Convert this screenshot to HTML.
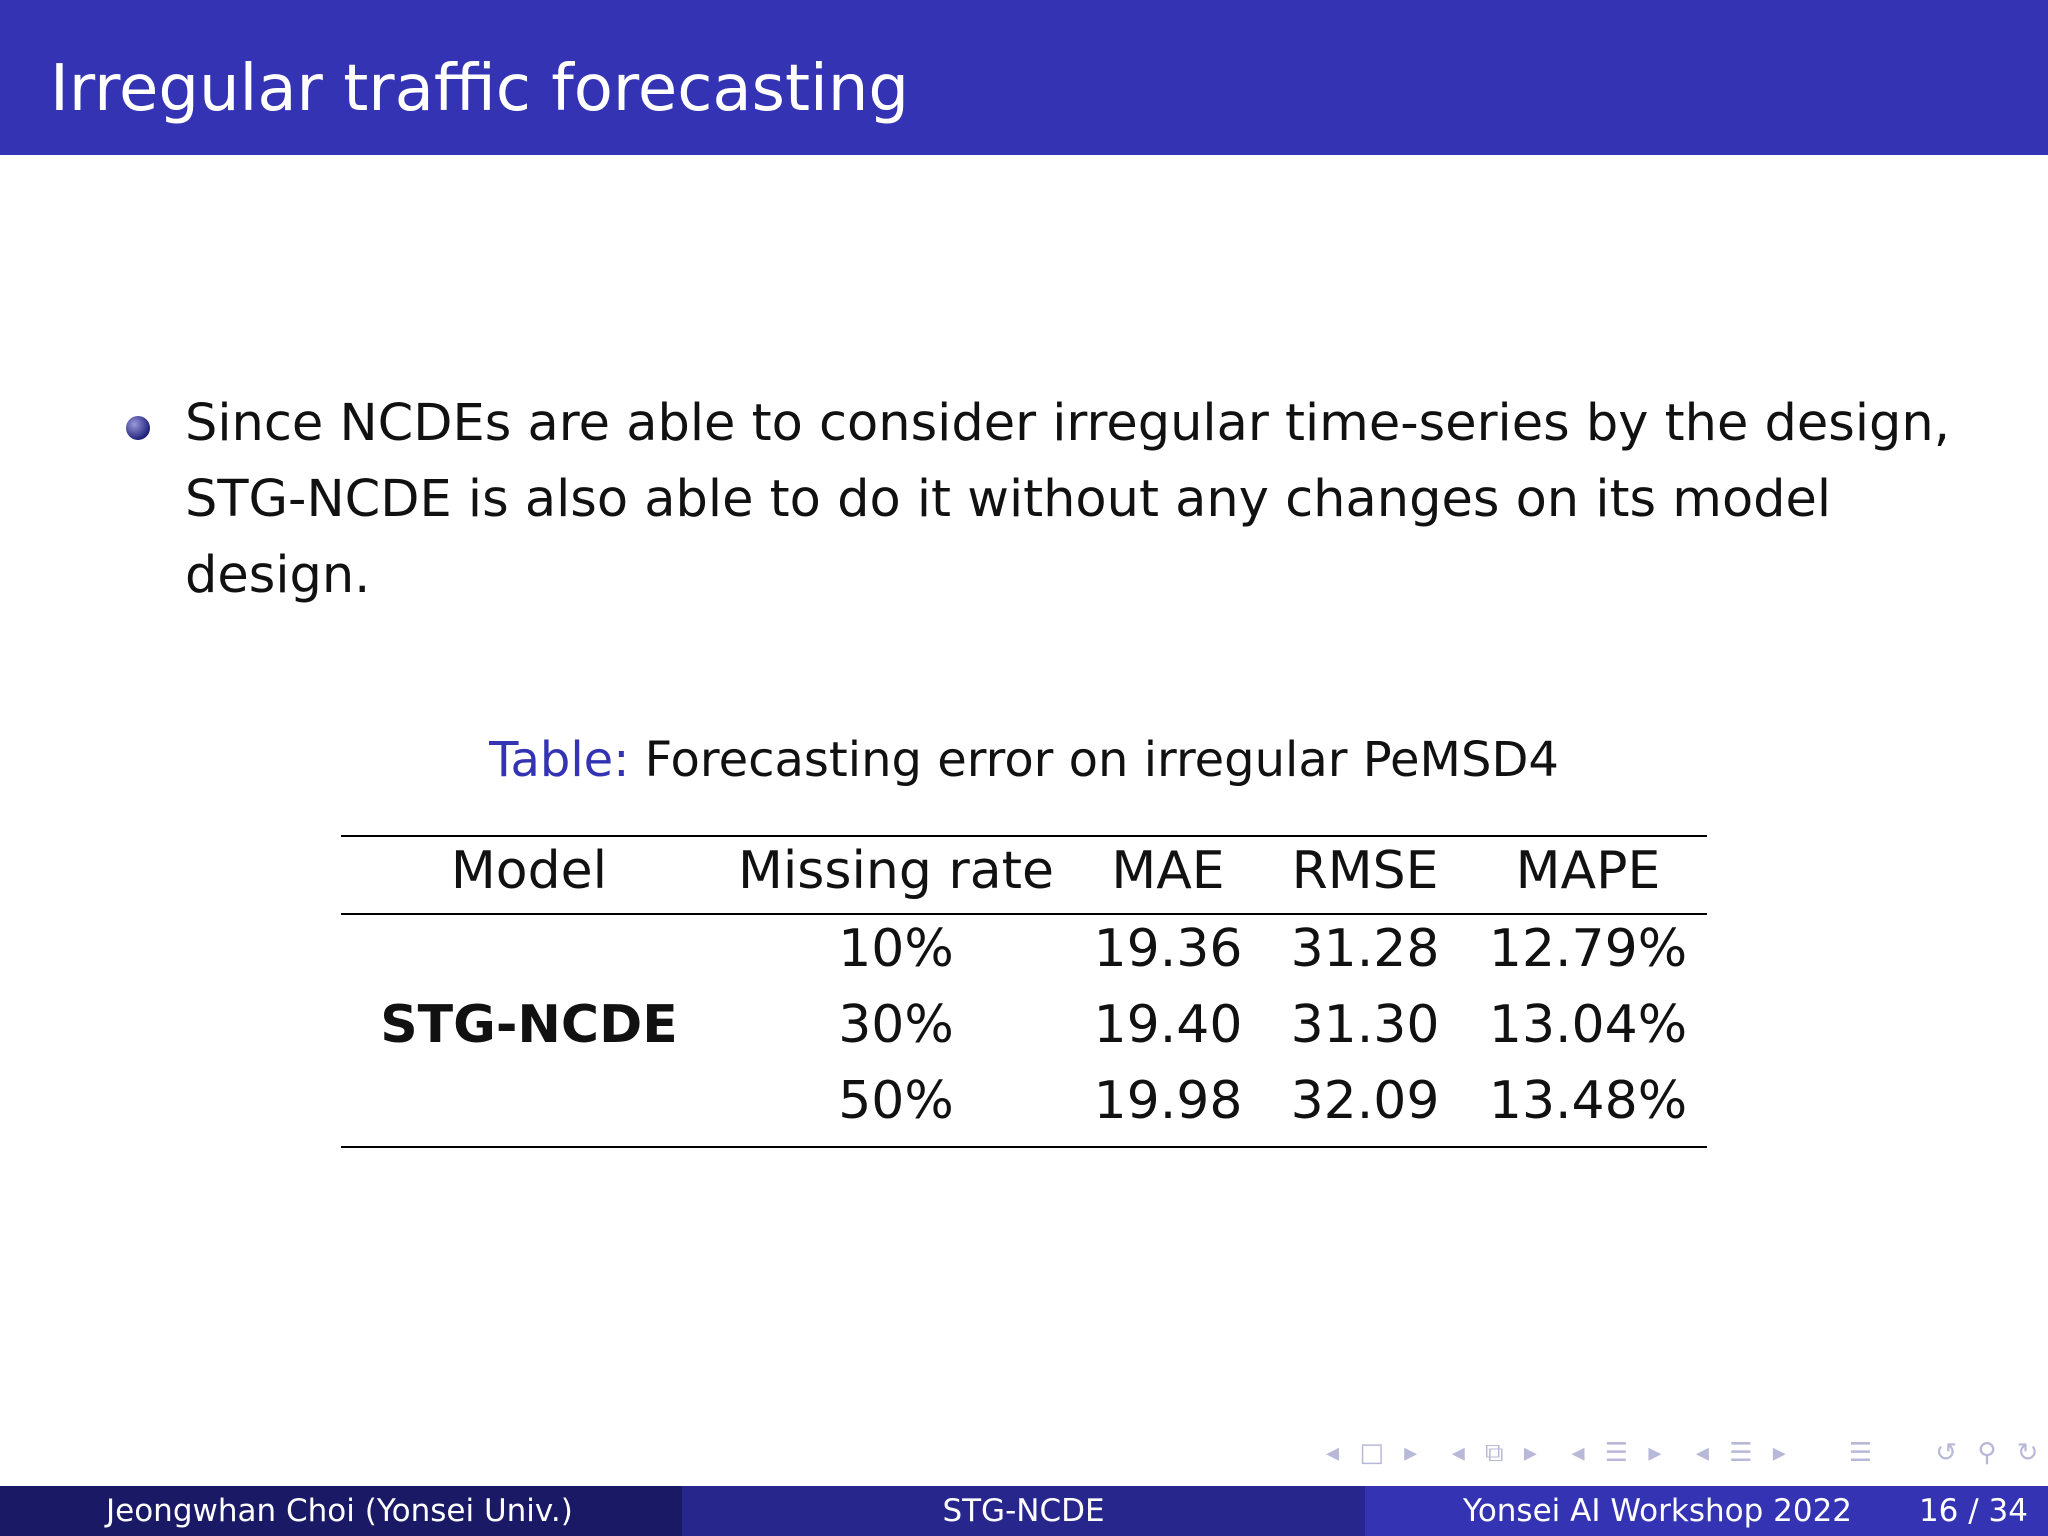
<!DOCTYPE html>
<html><head><meta charset="utf-8"><style>
body{margin:0;width:2048px;height:1536px;position:relative;background:#fff;font-family:"DejaVu Sans","Liberation Sans",sans-serif;overflow:hidden}
.a{position:absolute;white-space:nowrap}
.c{transform:translate(-50%,-50%)}
.r{position:absolute;height:2px;background:#000;left:341px;width:1366px}
.cell{position:absolute;font-size:52px;color:#111;transform:translate(-50%,-50%);white-space:nowrap}
</style></head><body>
<div class="a" style="left:0;top:0;width:2048px;height:155px;background:#3333b3"></div>
<div class="a" style="left:50px;top:57px;font-size:64px;color:#fff;line-height:1">Irregular traffic forecasting</div>
<div class="a" style="left:126px;top:416px;width:24px;height:24px;border-radius:50%;background:radial-gradient(circle at 35% 35%,#9999dd,#22227a 70%)"></div>
<div class="a" style="left:185px;top:386px;font-size:51px;line-height:76px;color:#111">Since NCDEs are able to consider irregular time-series by the design,<br>STG-NCDE is also able to do it without any changes on its model<br>design.</div>
<div class="a c" style="left:1024px;top:760px;font-size:48px;color:#111"><span style="color:#3333b3">Table:</span> Forecasting error on irregular PeMSD4</div>
<div class="r" style="top:835px"></div>
<div class="r" style="top:913px;height:2px"></div>
<div class="r" style="top:1146px"></div>
<div class="cell" style="left:529px;top:871px">Model</div>
<div class="cell" style="left:896px;top:871px">Missing rate</div>
<div class="cell" style="left:1168px;top:871px">MAE</div>
<div class="cell" style="left:1365px;top:871px">RMSE</div>
<div class="cell" style="left:1588px;top:871px">MAPE</div>
<div class="cell" style="left:529px;top:1025px;font-weight:bold">STG-NCDE</div>
<div class="cell" style="left:896px;top:949px">10%</div>
<div class="cell" style="left:1168px;top:949px">19.36</div>
<div class="cell" style="left:1365px;top:949px">31.28</div>
<div class="cell" style="left:1588px;top:949px">12.79%</div>
<div class="cell" style="left:896px;top:1025px">30%</div>
<div class="cell" style="left:1168px;top:1025px">19.40</div>
<div class="cell" style="left:1365px;top:1025px">31.30</div>
<div class="cell" style="left:1588px;top:1025px">13.04%</div>
<div class="cell" style="left:896px;top:1101px">50%</div>
<div class="cell" style="left:1168px;top:1101px">19.98</div>
<div class="cell" style="left:1365px;top:1101px">32.09</div>
<div class="cell" style="left:1588px;top:1101px">13.48%</div>
<div class="a" style="left:1326px;top:1438px;font-size:26px;color:#b8b8d8;letter-spacing:6px">◂ □ ▸ &nbsp;◂ ⧉ ▸ &nbsp;◂ ☰ ▸ &nbsp;◂ ☰ ▸ &nbsp;&nbsp; ☰ &nbsp;&nbsp; ↺ ⚲ ↻</div>
<div class="a" style="left:0;top:1486px;width:682px;height:50px;background:#191966;color:#fff;font-size:31px;line-height:50px;box-sizing:border-box;padding-left:106px">Jeongwhan Choi (Yonsei Univ.)</div>
<div class="a" style="left:682px;top:1486px;width:683px;height:50px;background:#26268c;color:#fff;font-size:31px;line-height:50px;text-align:center">STG-NCDE</div>
<div class="a" style="left:1365px;top:1486px;width:683px;height:50px;background:#3333b3;color:#fff;font-size:31px;line-height:50px"><span style="position:absolute;left:98px">Yonsei AI Workshop 2022</span><span style="position:absolute;right:20px">16 / 34</span></div>
</body></html>
